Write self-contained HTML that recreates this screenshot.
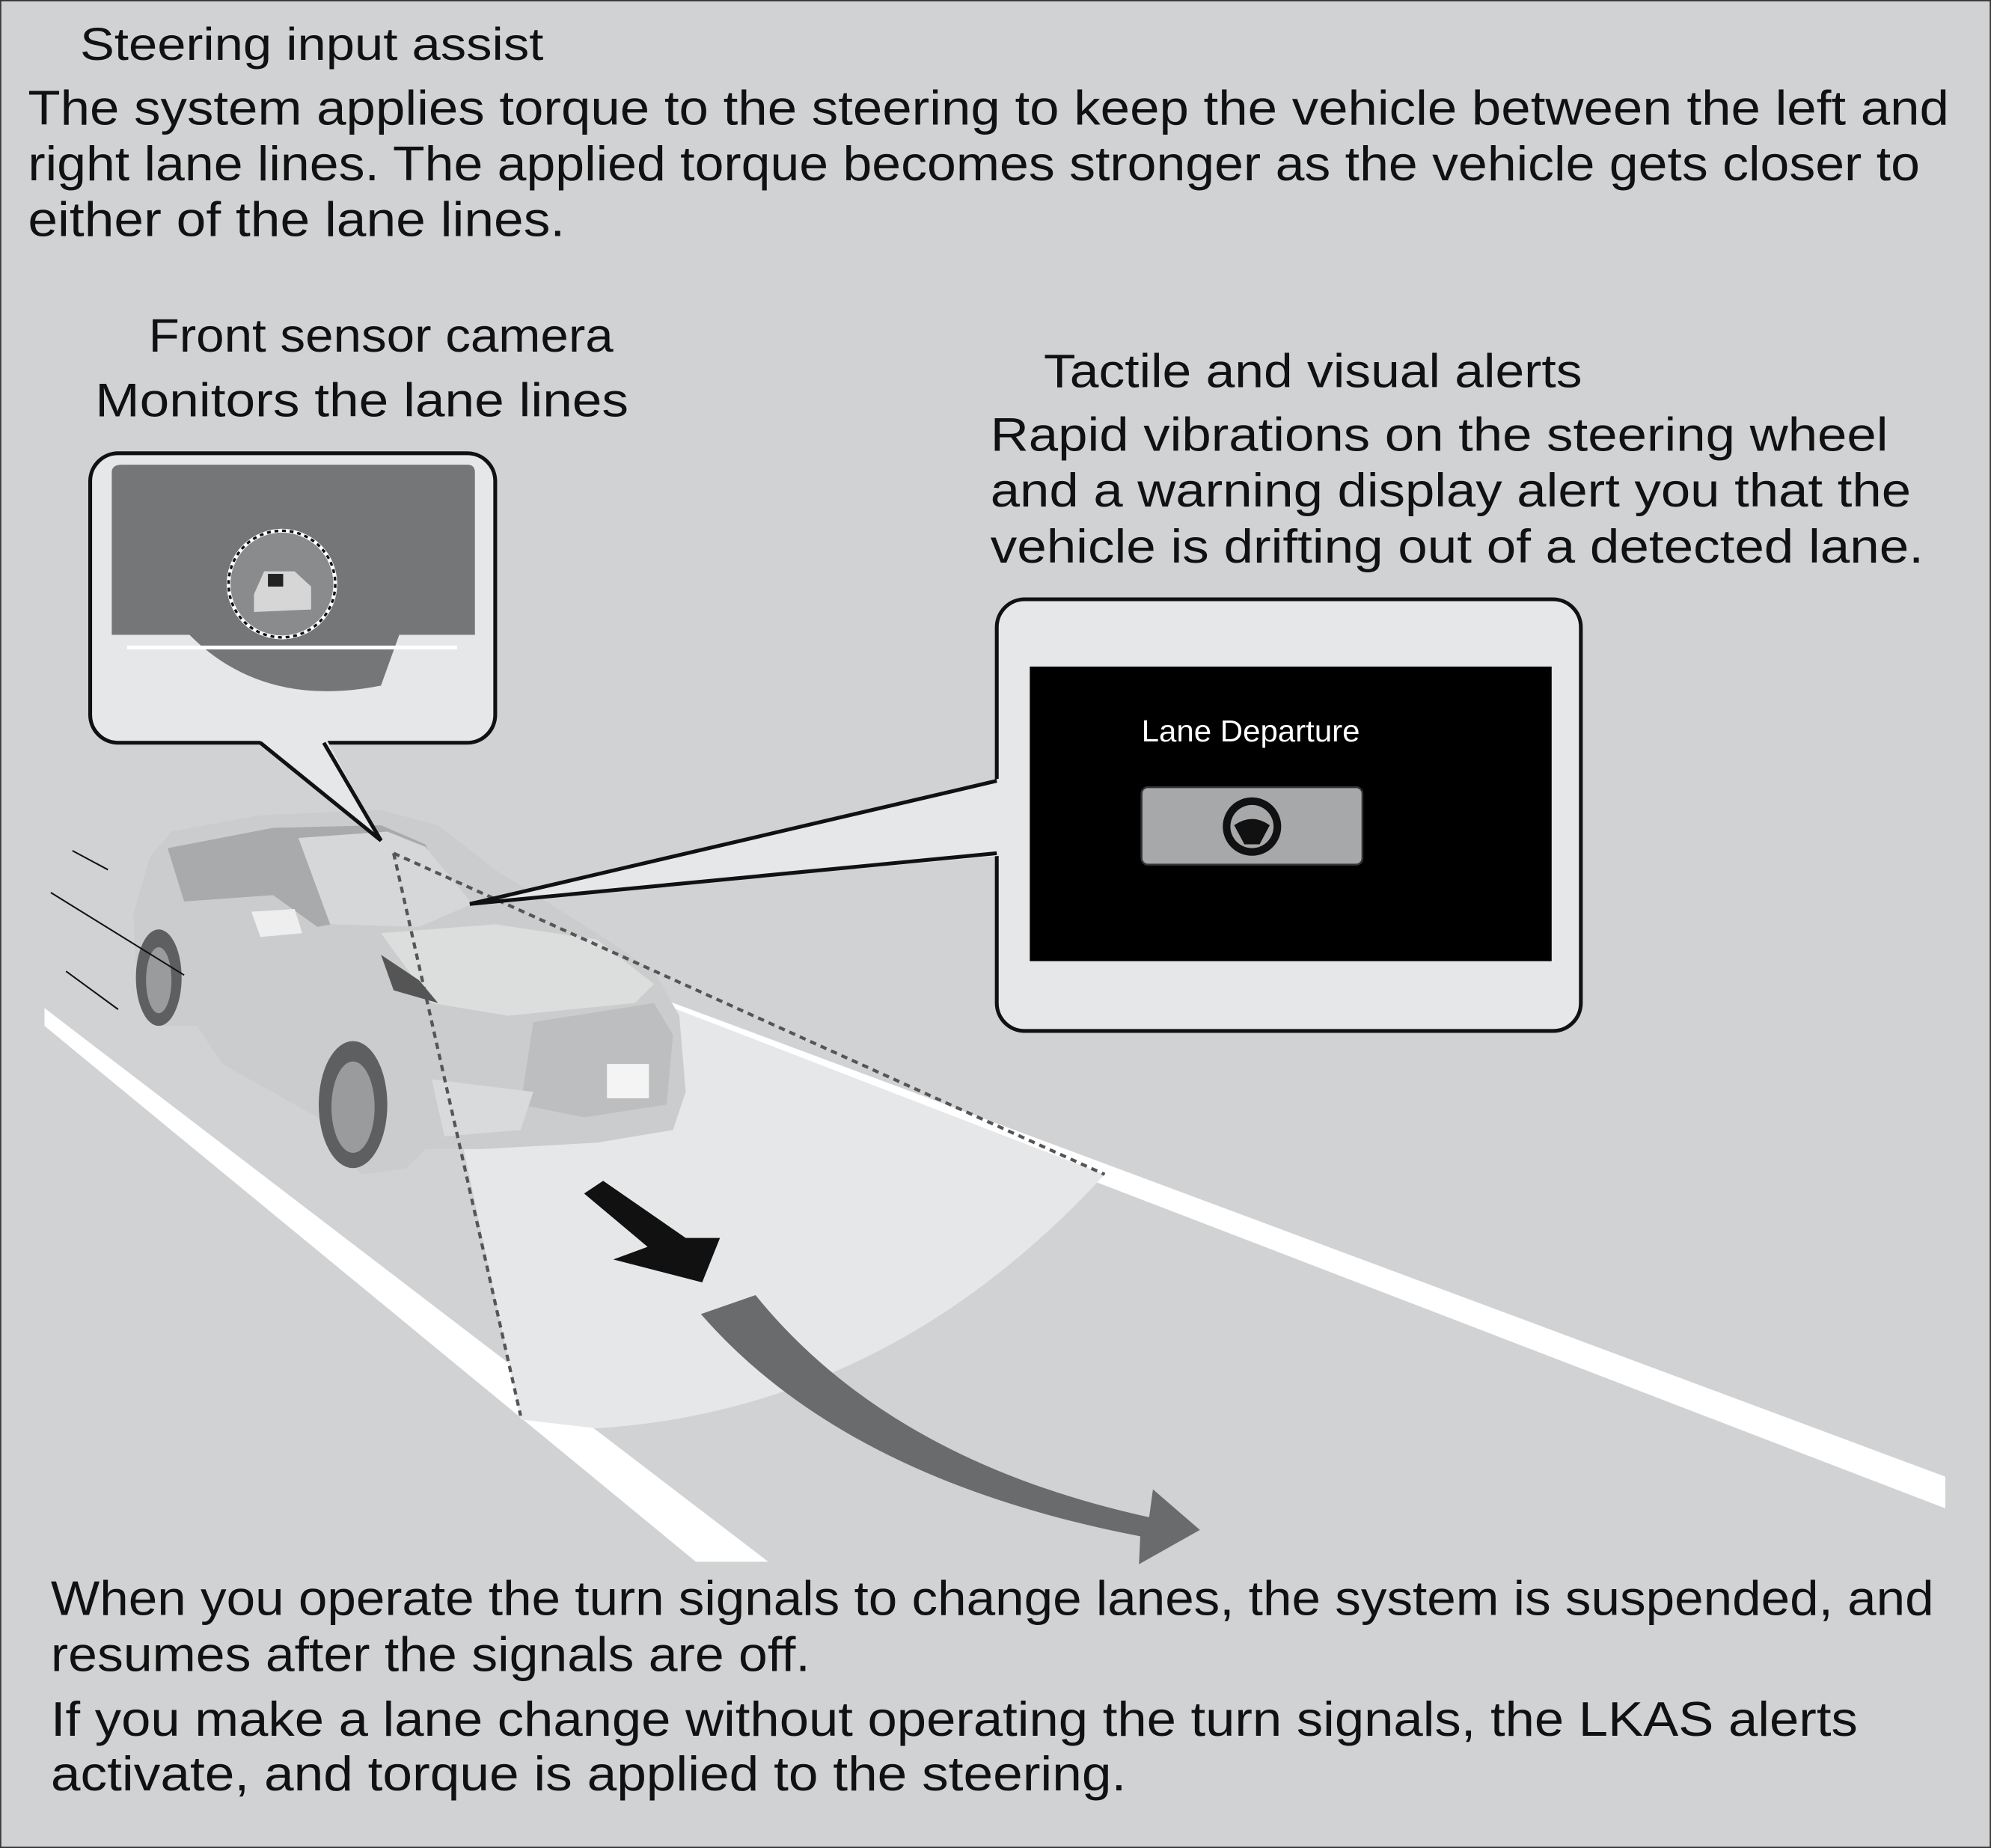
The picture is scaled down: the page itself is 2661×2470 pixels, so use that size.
<!DOCTYPE html>
<html><head><meta charset="utf-8"><style>
html,body{margin:0;padding:0;background:#d1d2d4}
svg{display:block}
text{font-family:"Liberation Sans",sans-serif;fill:#111}
</style></head><body>
<svg width="2661" height="2470" viewBox="0 0 1568 1455.5" xmlns="http://www.w3.org/2000/svg">
<rect x="0.5" y="0.5" width="1567" height="1454.5" fill="#d1d2d4" stroke="#333" stroke-width="1"/>
<text x="63" y="47" font-size="36" textLength="365" lengthAdjust="spacingAndGlyphs">Steering input assist</text>
<text x="22" y="98" font-size="38" textLength="1513" lengthAdjust="spacingAndGlyphs">The system applies torque to the steering to keep the vehicle between the left and</text>
<text x="22" y="142" font-size="38" textLength="1490" lengthAdjust="spacingAndGlyphs">right lane lines. The applied torque becomes stronger as the vehicle gets closer to</text>
<text x="22" y="186" font-size="38" textLength="423" lengthAdjust="spacingAndGlyphs">either of the lane lines.</text>
<text x="117" y="277" font-size="37" textLength="366" lengthAdjust="spacingAndGlyphs">Front sensor camera</text>
<text x="75" y="328" font-size="37" textLength="420" lengthAdjust="spacingAndGlyphs">Monitors the lane lines</text>
<text x="822" y="305" font-size="37" textLength="424" lengthAdjust="spacingAndGlyphs">Tactile and visual alerts</text>
<text x="780" y="355" font-size="37" textLength="707" lengthAdjust="spacingAndGlyphs">Rapid vibrations on the steering wheel</text>
<text x="780" y="399" font-size="37" textLength="725" lengthAdjust="spacingAndGlyphs">and a warning display alert you that the</text>
<text x="780" y="443" font-size="37" textLength="735" lengthAdjust="spacingAndGlyphs">vehicle is drifting out of a detected lane.</text>

<polygon points="35,794 35,808 548,1230 605,1230" fill="#fff"/>
<polygon points="525,788 1532,1163 1532,1188 525,801" fill="#fff"/>
<path d="M360,880 L410,1118 L470,1125 Q700,1110 870,925 L520,790 Z" fill="#e6e7e8"/>

<!-- car -->
<g stroke="none">
<path d="M105,720 L118,675 L135,655 L205,642 L300,638 L345,650 L390,685 L470,735 L515,765 L535,800 L540,860 L530,890 L470,900 L380,905 L335,905 L320,920 L285,925 L262,905 L250,880 L175,838 L155,808 L128,808 L108,785 Z" fill="#cbcccd"/>
<path d="M132,668 L215,652 L300,650 L335,665 L355,710 L250,730 L215,705 L145,710 Z" fill="#a9aaac"/>
<path d="M235,660 L305,655 L335,667 L372,712 L330,730 L260,728 Z" fill="#d6d7d8"/>
<path d="M300,735 L390,728 L470,740 L515,775 L500,790 L400,800 L340,790 Z" fill="#dcdddd"/>
<path d="M420,805 L515,790 L530,815 L525,870 L460,880 L410,870 Z" fill="#bdbec0"/>
<path d="M340,850 L420,860 L410,890 L350,895 Z" fill="#d9dadb"/>
<rect x="478" y="838" width="33" height="27" fill="#f4f4f4"/>
<ellipse cx="278" cy="870" rx="27" ry="50" fill="#5e5f61"/>
<ellipse cx="278" cy="872" rx="17" ry="36" fill="#9a9b9d"/>
<ellipse cx="125" cy="770" rx="18" ry="38" fill="#5e5f61"/>
<ellipse cx="125" cy="772" rx="10" ry="26" fill="#9a9b9d"/>
<path d="M198,718 L232,716 L238,735 L205,738 Z" fill="#eee"/>
<path d="M300,752 L330,772 L345,790 L310,780 Z" fill="#555"/>
</g>
<g stroke="#111" stroke-width="1.2">
<line x1="57" y1="670" x2="85" y2="685"/>
<line x1="40" y1="703" x2="145" y2="768"/>
<line x1="52" y1="765" x2="93" y2="795"/>
</g>
<g stroke="#555" stroke-width="2.5" stroke-dasharray="5,4" fill="none">
<line x1="310" y1="672" x2="410" y2="1115"/>
<line x1="310" y1="672" x2="870" y2="925"/>
</g>
<polygon points="460,940 475,930 540,975 567,975 553,1010 483,992 510,982" fill="#111"/>
<path d="M552,1035 L595,1020 Q700,1150 905,1195 L908,1173 L945,1205 L897,1232 L898,1210 Q665,1165 552,1035 Z" fill="#6a6b6d"/>

<!-- camera callout -->
<rect x="71" y="357" width="319" height="228" rx="22" fill="#e6e7e8" stroke="#111" stroke-width="3"/>
<path d="M88,372 Q88,366 96,366 L368,366 Q374,366 374,372 L374,500 L88,500 Z" fill="#757678"/>
<path d="M140,490 Q200,560 300,540 L318,490 Z" fill="#757678"/>
<path d="M100,510 L360,510" stroke="#fff" stroke-width="3"/>
<circle cx="222" cy="460" r="42" fill="#8a8b8d" stroke="#fff" stroke-width="3"/>
<circle cx="222" cy="460" r="42" fill="none" stroke="#111" stroke-width="2" stroke-dasharray="3,3"/>
<path d="M200,468 L208,450 L232,450 L245,462 L245,480 L200,482 Z" fill="#d6d6d6"/>
<rect x="211" y="452" width="12" height="10" fill="#222"/>
<polygon points="203,582 300,662 257,582" fill="#e6e7e8"/>
<polyline points="205,585 300,662 255,585" fill="none" stroke="#111" stroke-width="3"/>

<!-- display callout -->
<rect x="785" y="472" width="460" height="340" rx="22" fill="#e6e7e8" stroke="#111" stroke-width="3"/>
<polygon points="788,613 370,712 788,674" fill="#e6e7e8"/>
<polyline points="785,615 370,712 785,672" fill="none" stroke="#111" stroke-width="3"/>
<rect x="811" y="525" width="411" height="232" fill="#000"/>
<text x="985" y="584" font-size="24" style="fill:#fff" text-anchor="middle" textLength="172" lengthAdjust="spacingAndGlyphs">Lane Departure</text>
<rect x="899" y="620" width="174" height="61" rx="5" fill="#a7a8aa" stroke="#333" stroke-width="1.5"/>
<circle cx="986" cy="651" r="23" fill="#111"/>
<circle cx="986" cy="651" r="17" fill="#a7a8aa"/>
<path d="M972,650 Q986,640 1000,650 L992,665 L980,665 Z" fill="#111"/>

<text x="40" y="1272" font-size="38" textLength="1483" lengthAdjust="spacingAndGlyphs">When you operate the turn signals to change lanes, the system is suspended, and</text>
<text x="40" y="1316" font-size="38" textLength="598" lengthAdjust="spacingAndGlyphs">resumes after the signals are off.</text>
<text x="40" y="1367" font-size="38" textLength="1423" lengthAdjust="spacingAndGlyphs">If you make a lane change without operating the turn signals, the LKAS alerts</text>
<text x="40" y="1410" font-size="38" textLength="847" lengthAdjust="spacingAndGlyphs">activate, and torque is applied to the steering.</text>
</svg>
</body></html>
